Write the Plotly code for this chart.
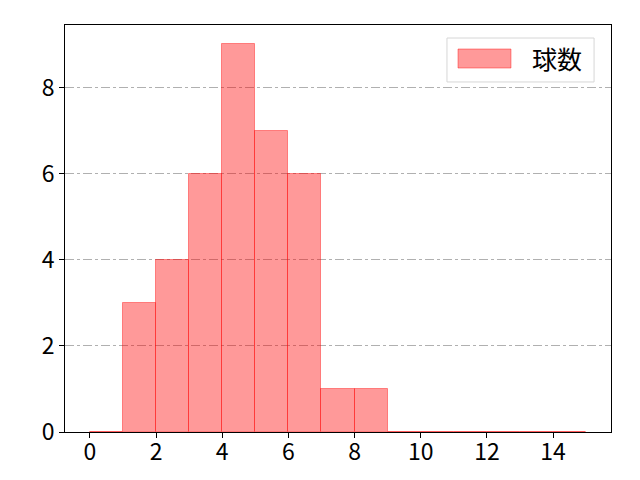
import plotly.graph_objects as go

# histogram counts per bin (bins of width 1 from 0 to 15)
bin_left = list(range(15))
counts = [0, 3, 4, 6, 9, 7, 6, 1, 1, 0, 0, 0, 0, 0, 0]
x_ticks = [0, 2, 4, 6, 8, 10, 12, 14]
y_ticks = [0, 2, 4, 6, 8]
series_name = '球数'

bar_fill = 'rgba(255,0,0,0.4)'
font = 'Noto Sans CJK JP, sans-serif'

fig = go.Figure()
fig.add_trace(go.Bar(
    x=[b + 0.5 for b in bin_left],
    y=counts,
    width=1,
    name=series_name,
    marker=dict(color=bar_fill, line=dict(color=bar_fill, width=1)),
    showlegend=False,
))

# legend drawn by hand so the patch matches the matplotlib look
fig.add_shape(type='rect', xref='paper', yref='paper',
              x0=0.6996, x1=0.969, y0=0.86, y1=0.968,
              line=dict(color='#d6d6d6', width=1), fillcolor='rgba(255,255,255,0.8)')
fig.add_shape(type='rect', xref='paper', yref='paper',
              x0=0.7198, x1=0.8168, y0=0.8943, y1=0.941,
              line=dict(color=bar_fill, width=1), fillcolor=bar_fill)
fig.add_annotation(xref='paper', yref='paper', x=0.852, y=0.918,
                   xanchor='left', yanchor='middle', showarrow=False,
                   text=series_name, font=dict(size=25, color='black'))

# page body has an 8px margin, so the figure is shrunk by that much
fig.update_layout(
    width=632, height=472,
    margin=dict(l=57, r=29, t=17, b=48),
    paper_bgcolor='white', plot_bgcolor='white',
    font=dict(family=font, size=23, color='black'),
    bargap=0,
    xaxis=dict(range=[-0.75, 15.75], tickvals=x_ticks,
               showgrid=False, zeroline=False, automargin=False,
               showline=True, mirror=True, linecolor='black', linewidth=1,
               ticks='outside', ticklen=5, tickcolor='black',
               ticklabelstandoff=-6),
    yaxis=dict(range=[0, 9.45], tickvals=y_ticks,
               showgrid=True, gridcolor='#b0b0b0', griddash='dashdot', gridwidth=1,
               zeroline=False, automargin=False,
               showline=True, mirror=True, linecolor='black', linewidth=1,
               ticks='outside', ticklen=5, tickcolor='black'),
)

fig.write_html('out.html')
